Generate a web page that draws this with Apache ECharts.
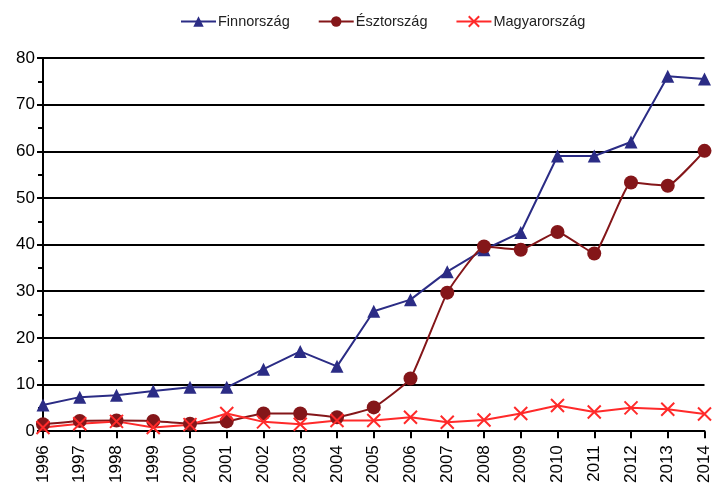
<!DOCTYPE html>
<html>
<head>
<meta charset="utf-8">
<script src="https://cdn.jsdelivr.net/npm/echarts@6/dist/echarts.min.js"></script>
<style>
  html, body { margin: 0; padding: 0; background: #fff; }
  #chart { width: 713px; height: 486px; }
</style>
</head>
<body>
<div id="chart"></div>
<script>
// évek
const years = ['1996', '1997', '1998', '1999', '2000', '2001', '2002', '2003', '2004', '2005',
  '2006', '2007', '2008', '2009', '2010', '2011', '2012', '2013', '2014']

const finnorszag = [5.6, 7.3, 7.7, 8.6, 9.4, 9.4, 13.3, 17.1, 13.9, 25.7,
  28.2, 34.2, 38.9, 42.6, 59.0, 59.0, 62.0, 76.1, 75.5]
const esztorszag = [1.5, 2.2, 2.3, 2.2, 1.6, 2.1, 3.8, 3.8, 3.0, 5.1,
  11.3, 29.7, 39.6, 38.9, 42.7, 38.1, 53.3, 52.6, 60.1]
const magyarorszag = [0.8, 1.6, 2.1, 0.8, 1.4, 3.8, 2.0, 1.5, 2.3, 2.3,
  3.0, 1.9, 2.4, 3.8, 5.5, 4.1, 5.0, 4.7, 3.7]

const yTicks = [0, 10, 20, 30, 40, 50, 60, 70, 80]

var myChart = echarts.init(document.getElementById('chart'))

const option = {
    animation: false,
    textStyle: { fontFamily: 'Liberation Sans' },
    legend: {
        top: 9,
        left: 175,
        itemWidth: 35,
        itemHeight: 13,
        itemGap: 28,
        textStyle: { fontSize: 14.5, color: '#222', padding: [0, 0, 0, -3] },
        data: ['Finnország', 'Észtország', 'Magyarország']
    },
    grid: { left: 43, right: 8, top: 58, bottom: 54, containLabel: false },
    xAxis: {
        type: 'category',
        data: years,
        boundaryGap: false,
        axisLine: { lineStyle: { color: '#000', width: 2 } },
        axisTick: { show: true, length: 7, inside: false, lineStyle: { color: '#000', width: 2 } },
        axisLabel: { rotate: 90, fontSize: 17, color: '#000', margin: 14, interval: 0 }
    },
    yAxis: {
        type: 'value',
        min: yTicks[0],
        max: yTicks[yTicks.length - 1],
        interval: 10,
        axisLine: { show: true, lineStyle: { color: '#000', width: 2 } },
        axisTick: { show: true, length: 6, lineStyle: { color: '#000', width: 2 } },
        minorTick: { show: true, splitNumber: 2, length: 5, lineStyle: { color: '#000', width: 2 } },
        splitLine: { lineStyle: { color: '#000', width: 2 } },
        axisLabel: { fontSize: 17, color: '#000', margin: 8 }
    },
    series: [
        {
            name: 'Finnország',
            type: 'line',
            data: finnorszag,
            symbol: 'triangle',
            symbolSize: 13,
            color: '#2b2c85',
            lineStyle: { width: 2 }
        },
        {
            name: 'Észtország',
            type: 'line',
            data: esztorszag,
            symbol: 'circle',
            symbolSize: 14,
            smooth: 0.12,
            color: '#841619',
            lineStyle: { width: 2 }
        },
        {
            name: 'Magyarország',
            type: 'line',
            data: magyarorszag,
            symbol: 'path://M0,0 L10,10 M10,0 L0,10',
            symbolSize: 13,
            color: '#ff2a2a',
            itemStyle: { color: '#ff2a2a', borderColor: '#ff2a2a', borderWidth: 2 },
            lineStyle: { width: 2 }
        }
    ]
}

myChart.setOption(option)
</script>
</body>
</html>
